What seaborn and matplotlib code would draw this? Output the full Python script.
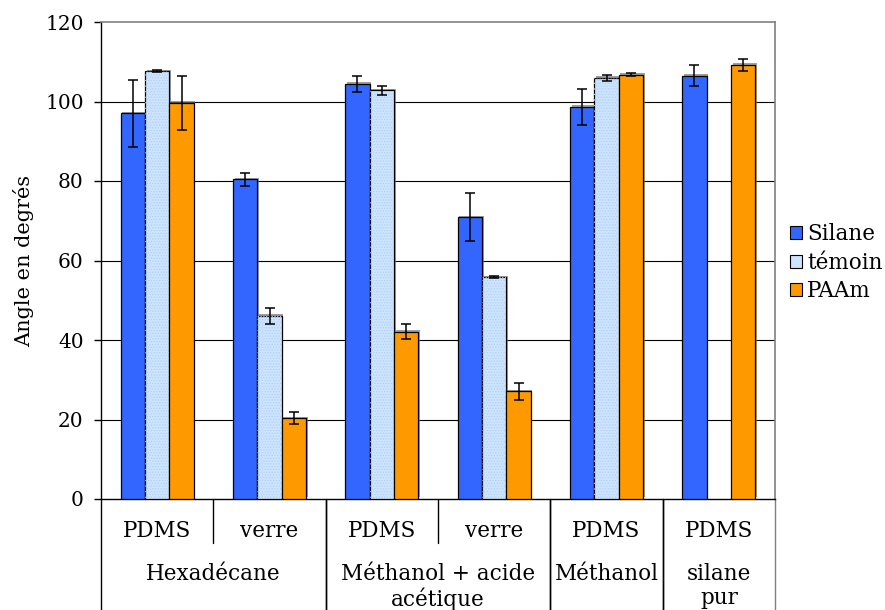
import numpy as np
import pandas as pd
import matplotlib
matplotlib.use("Agg")
import matplotlib.pyplot as plt
import matplotlib.patheffects as pe
from matplotlib.patches import Rectangle
import seaborn as sns

# Contact angle measurements (degrees) per solvent / substrate
solvents = ["Hexadécane", "Hexadécane", "Méthanol + acide\nacétique",
            "Méthanol + acide\nacétique", "Méthanol", "silane\npur"]
substrates = ["PDMS", "verre", "PDMS", "verre", "PDMS", "PDMS"]
series = ["Silane", "témoin", "PAAm"]

silane = [97.0, 80.4, 104.4, 70.9, 98.6, 106.5]
silane_err = [8.4, 1.7, 1.9, 6.0, 4.5, 2.6]
temoin = [107.6, 46.1, 102.8, 55.8, 105.9, np.nan]
temoin_err = [0.3, 2.0, 1.1, 0.2, 0.8, np.nan]
paam = [99.7, 20.3, 42.1, 27.1, 106.7, 109.2]
paam_err = [6.8, 1.5, 1.8, 2.2, 0.4, 1.6]

colors = {"Silane": "#3366FF", "témoin": "#CCE4FF", "PAAm": "#FF9900"}

keys = [f"{s}|{sub}|{i}" for i, (s, sub) in enumerate(zip(solvents, substrates))]
rows = []
for name, vals, errs in [("Silane", silane, silane_err),
                         ("témoin", temoin, temoin_err),
                         ("PAAm", paam, paam_err)]:
    for k, v, e in zip(keys, vals, errs):
        rows.append({"cat": k, "serie": name, "angle": v, "err": e})
df = pd.DataFrame(rows)

sns.set_theme(style="white")
plt.rcParams["font.family"] = ["DejaVu Serif"]
plt.rcParams["text.color"] = "black"
plt.rcParams["axes.labelcolor"] = "black"
plt.rcParams["ytick.color"] = "black"
plt.rcParams["xtick.color"] = "black"
plt.rcParams["hatch.linewidth"] = 0.6

fig = plt.figure(figsize=(8.85, 6.10), dpi=100)
ax = fig.add_axes([101 / 885, 1 - 499 / 610, 674 / 885, 477 / 610])

sns.barplot(data=df.dropna(subset=["angle"]), x="cat", y="angle", hue="serie",
            order=keys, hue_order=series, palette=colors, width=0.65,
            errorbar=None, edgecolor="black", linewidth=0.9, saturation=1,
            ax=ax, zorder=3)

shadow = [pe.SimplePatchShadow(offset=(1.2, 1.2), shadow_rgbFace="#777777", alpha=0.7),
          pe.Normal()]
for name, cont in zip(series, ax.containers):
    sub = df[df.serie == name].dropna(subset=["angle"])
    xs, ys = [], []
    for bar in cont:
        bar.set_path_effects(shadow)
        xs.append(bar.get_x() + bar.get_width() / 2)
        ys.append(bar.get_height())
        if name == "témoin":
            # fine dotted texture inside the control bars
            ax.add_patch(Rectangle(bar.get_xy(), bar.get_width(), bar.get_height(),
                                   facecolor="none", edgecolor="#B3D0F0",
                                   lw=0, hatch="......", zorder=3.5))
    ax.errorbar(xs, ys, yerr=sub["err"].to_numpy(), fmt="none", ecolor="black",
                elinewidth=1.1, capsize=3.5, capthick=1.1, zorder=5)

ax.set_ylim(0, 120)
ax.set_yticks(np.arange(0, 121, 20))
ax.set_xlim(-0.5, len(keys) - 0.5)
ax.tick_params(axis="y", labelsize=14.5, length=5, width=1, color="black",
               direction="out", left=True, pad=7.5)
ax.tick_params(axis="x", bottom=False, labelbottom=False)
ax.set_xlabel("")
ax.set_ylabel("Angle en degrés", fontsize=15, labelpad=8)

for y in range(20, 120, 20):
    ax.axhline(y, color="black", lw=0.8, zorder=1)

for side in ["left", "bottom"]:
    ax.spines[side].set_color("black")
    ax.spines[side].set_linewidth(1.0)
for side in ["top", "right"]:
    ax.spines[side].set_color("#808080")
    ax.spines[side].set_linewidth(1.2)

# Two-level category axis below the plot
trans = ax.get_xaxis_transform()
inner_bottom = -44 / 477
outer_bottom = -111 / 477
for i, sub in enumerate(substrates):
    ax.text(i, -32 / 477, sub, transform=trans, ha="center", va="center",
            fontsize=15.5)
for b in [0.5, 2.5]:
    ax.plot([b, b], [0, inner_bottom], transform=trans, color="black",
            lw=1.0, clip_on=False)
groups = []
for i, s in enumerate(solvents):
    if groups and groups[-1][0] == s:
        groups[-1][2] = i
    else:
        groups.append([s, i, i])
for name, a, b in groups:
    ax.text((a + b) / 2, -63.5 / 477, name, transform=trans, ha="center",
            va="top", fontsize=15.5, linespacing=1.15)
    for edge in [a - 0.5, b + 0.5]:
        ax.plot([edge, edge], [0, outer_bottom], transform=trans,
                color="black" if edge < len(keys) - 0.6 else "#808080",
                lw=1.0, clip_on=False)

leg = ax.legend(loc="center left", bbox_to_anchor=(1 + 15 / 674, 0.495),
                frameon=False, fontsize=15.5, handlelength=0.55, handleheight=0.55,
                handletextpad=0.25, labelspacing=0.3, borderpad=0,
                borderaxespad=0)
for h in leg.legend_handles:
    h.set_edgecolor("black")
    h.set_linewidth(0.8)
    h.set_path_effects([])

fig.savefig("out.png", dpi=100)
